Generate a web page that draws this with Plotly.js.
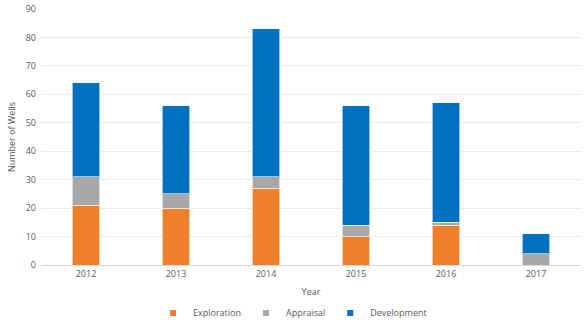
<!DOCTYPE html>
<html><head><meta charset="utf-8">
<script src="https://cdn.plot.ly/plotly-3.0.1.min.js"></script>
<style>html,body{margin:0;padding:0;background:#fff;}#chart{width:585px;height:325px;}</style>
</head><body><div id="chart"></div>
<script>
const years = ['2012','2013','2014','2015','2016','2017'];
const exploration = [21, 20, 27, 10, 14, 0];
const appraisal = [10, 5, 4, 4, 1, 4];
const development = [33, 31, 52, 42, 42, 7];
const seriesNames = ['Exploration','Appraisal','Development'];
const seriesColors = ['#F07F2C','#A8A8A8','#0070C0'];
const yTicks = [0,10,20,30,40,50,60,70,80,90];

const line = {color:'rgba(255,255,255,0.6)', width:1};
const values = [exploration, appraisal, development];
const traces = [];
values.forEach((v,i)=>{
  traces.push({type:'bar', name:seriesNames[i], x:years, y:v, legendgroup:seriesNames[i], showlegend:false,
               marker:{color:seriesColors[i], line:line}});
});
values.forEach((v,i)=>{
  traces.push({type:'scatter', mode:'markers', name:seriesNames[i], x:[years[0]], y:[null], legendgroup:seriesNames[i],
               showlegend:true, marker:{symbol:'square', size:6, color:seriesColors[i]}, hoverinfo:'skip'});
});
const font = {family:'"Open Sans", "Liberation Sans", sans-serif', size:9, color:'#595959'};
const layout = {
  width:585, height:325, barmode:'stack', bargap:0.69,
  margin:{l:41, r:4, t:9, b:60},
  paper_bgcolor:'#fff', plot_bgcolor:'#fff', font:font,
  showlegend:true,
  legend:{orientation:'h', xref:'container', x:0.5, xanchor:'center', yref:'container', y:0.037, yanchor:'middle',
          font:font, traceorder:'normal', itemwidth:30},
  xaxis:{type:'category', showgrid:false, zeroline:false, showline:true, linecolor:'#D9D9D9', ticks:'', tickfont:font,
         title:{text:'Year', font:font, standoff:9}},
  yaxis:{range:[0,90], tickvals:yTicks, showgrid:true, gridcolor:'#EBEBEB', zeroline:false, showline:false, ticks:'', tickfont:font,
         ticklabelstandoff:4,
         title:{text:'Number of Wells', font:font, standoff:8}}
};
Plotly.newPlot('chart', traces, layout, {displayModeBar:false, staticPlot:true});
</script></body></html>
